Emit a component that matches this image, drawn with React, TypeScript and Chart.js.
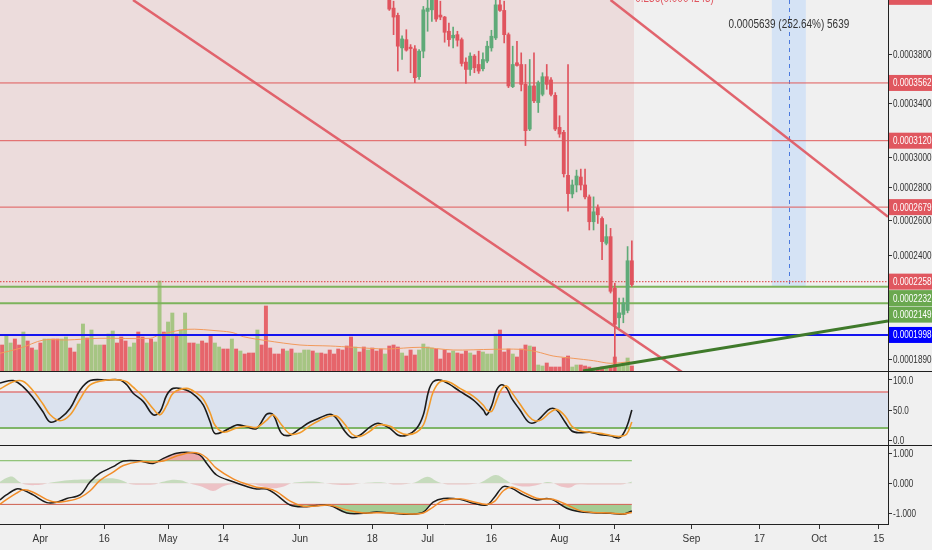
import React, { useEffect, useRef } from 'react';
import { Chart, registerables } from 'chart.js';
Chart.register(...registerables);

// ---------- shared time axis (days since 1 Apr) ----------
const X_MIN = -9.495;
const X_MAX = 199.2;
const xTickDays = [0, 15, 30, 43, 61, 78, 91, 106, 122, 135, 153, 169, 183, 197];
const xTickLabels = ['Apr', '16', 'May', '14', 'Jun', '18', 'Jul', '16', 'Aug', '14', 'Sep', '17', 'Oct', '15'];

// ---------- price axis ----------
const PRICE_MIN = 0.00018394;
const PRICE_MAX = 0.00043087;
const priceTicks = [0.00038, 0.00034, 0.0003, 0.00028, 0.00026, 0.00024, 0.000189];
const PRICE_UNIT = 0.0001; // candle arrays are in units of 0.0001

// ---------- candles (daily, from 22 Jun) ----------
const candleFirstDay = 82;
const candleOpen = [
  4.3267, 4.2291, 4.1593, 3.8605, 3.9342, 3.8667, 3.8517, 3.6134, 3.8316, 4.1974,
  4.2127, 4.307, 4.1622, 4.1433, 4.0104, 3.9495, 3.9794, 3.9342, 3.7366, 3.6741,
  3.7881, 3.7162, 3.68, 3.7451, 3.8605, 3.9495, 4.261, 4.207, 3.9794, 3.532,
  3.7307, 3.7162, 3.5506, 3.2044, 3.5376, 3.4054, 3.4705, 3.6134, 3.5864, 3.4626,
  3.2169, 3.1804, 2.8815, 2.7613, 2.8186, 2.8704, 2.8186, 2.7426, 2.5906, 2.6747,
  2.6101, 2.4656, 2.5036, 2.2244, 2.0782, 2.0943, 2.1135, 2.3688,
];
const candleHigh = [
  4.3963, 4.2971, 4.1812, 3.9677, 4.025, 3.8897, 3.8808, 3.8456, 4.2454, 4.307,
  4.3763, 4.3763, 4.2971, 4.1498, 4.0869, 4.0498, 4.0104, 3.9495, 3.7734, 3.8167,
  3.802, 3.8316, 3.8167, 3.9199, 4.0195, 4.307, 4.3168, 4.2971, 3.9948, 3.8755,
  3.9199, 3.8167, 3.7162, 3.7589, 3.8167, 3.5782, 3.6465, 3.7162, 3.6052, 3.484,
  3.3037, 3.1949, 3.7162, 2.8509, 2.9165, 2.9232, 2.9232, 2.755, 2.7426, 2.693,
  2.6203, 2.5729, 2.5514, 2.25, 2.1749, 2.1749, 2.4471, 2.4791,
];
const candleLow = [
  4.207, 3.9794, 3.6607, 3.7589, 3.8316, 3.6465, 3.5643, 3.5913, 3.7734, 4.0104,
  4.1028, 4.1028, 4.1178, 3.911, 3.8755, 3.8605, 3.8755, 3.7027, 3.5587, 3.6241,
  3.6465, 3.6407, 3.6607, 3.7307, 3.8316, 3.9342, 4.1974, 3.9047, 3.5239, 3.5239,
  3.7027, 3.4975, 3.0853, 3.1927, 3.4054, 3.3287, 3.4579, 3.5103, 3.4579, 3.1927,
  3.1444, 2.8704, 2.6547, 2.7363, 2.7739, 2.7866, 2.7301, 2.5421, 2.5421, 2.5806,
  2.3743, 2.4566, 2.1997, 1.7983, 2.0314, 2.0547, 2.102, 2.2331,
];
const candleClose = [
  4.2195, 4.1433, 3.8755, 3.9405, 3.8404, 3.8543, 3.6052, 3.8316, 4.2127, 4.2291,
  4.3168, 4.1244, 4.1433, 4.0012, 3.9342, 3.974, 3.9289, 3.7247, 3.6741, 3.7881,
  3.6884, 3.6607, 3.7589, 3.8755, 3.965, 4.261, 4.207, 3.9794, 3.5376, 3.7162,
  3.7078, 3.5506, 3.1927, 3.5376, 3.4187, 3.5643, 3.6134, 3.5506, 3.4705, 3.2044,
  3.1681, 2.892, 2.7632, 2.8186, 2.8769, 2.8186, 2.7426, 2.5906, 2.6503, 2.6322,
  2.4752, 2.5036, 2.2086, 2.0472, 2.102, 2.1503, 2.3688, 2.2427,
];

// ---------- volume (daily from 23 Mar), arbitrary units ----------
const volFirstDay = -9;
const VOL_AXIS_MAX = 371;
const volume = [
  26, 36, 28, 32, 26, 39, 30, 23, 21, 28,
  32, 32, 32, 32, 32, 34, 23, 19, 27, 47,
  33, 41, 26, 26, 26, 37, 40, 28, 34, 30,
  24, 28, 39, 34, 28, 32, 29, 90, 39, 49,
  58, 37, 41, 58, 28, 28, 27, 30, 28, 36,
  28, 24, 22, 22, 32, 22, 20, 17, 18, 18,
  41, 26, 65, 23, 17, 17, 22, 20, 22, 18,
  18, 21, 21, 20, 18, 18, 17, 21,
  17, 22, 21, 25, 34, 24, 19, 24, 21, 23,
  20, 22, 17, 25, 26, 24, 18, 15, 21, 16,
  21, 27, 24, 23, 22, 12, 21, 18, 20, 18,
  17, 20, 18, 16, 20, 19, 17, 17, 37, 41,
  19, 22, 17, 14, 22, 26, 25, 24, 6, 5,
  8, 4, 4, 4, 13, 15, 4, 6, 6, 5,
  4, 3, 3, 4, 3, 5, 14, 6, 6, 13, 5,
];
const volUp = [
  0, 1, 1, 0, 0, 1, 0, 0, 1, 0,
  1, 1, 0, 0, 1, 1, 0, 0, 1, 1,
  0, 1, 1, 1, 0, 1, 1, 0, 0, 0,
  1, 1, 0, 0, 1, 0, 1, 1, 0, 1,
  1, 0, 1, 1, 0, 0, 1, 0, 0, 0,
  1, 1, 0, 0, 1, 0, 1, 0, 0, 0,
  1, 0, 0, 0, 0, 0, 0, 1, 0, 1,
  1, 1, 1, 0, 1, 0, 0, 0,
  0, 0, 0, 0, 0, 1, 0, 0, 1, 0,
  0, 0, 1, 0, 0, 0, 1, 0, 0, 0,
  1, 1, 1, 1, 0, 0, 0, 0, 1, 0,
  0, 0, 1, 0, 0, 1, 1, 1, 1, 0,
  0, 0, 1, 0, 0, 0, 1, 0, 1, 1,
  0, 0, 0, 0, 0, 0, 1, 1, 0, 0,
  0, 1, 0, 0, 1, 0, 0, 1, 1, 1, 0,
];
const volMaDays = [-9.5, -4.8, 0.7, 6.2, 14.0, 25.8, 27.9, 34.4, 42.2, 45.3, 47.7, 53.2, 61.0, 68.1, 73.5, 81.4, 89.2, 97.0, 106.4, 112.7, 116.6, 120.5, 125.2, 130.0, 133.9, 138.6];
const volMa = [17.7, 22.7, 31, 31, 32.7, 32.7, 36, 41.7, 40, 38.3, 34.3, 30.3, 26, 25, 23.7, 22, 23.7, 21, 21.7, 21.7, 19.3, 15, 12.7, 10.3, 7.7, 9.3];

// ---------- drawings ----------
const redLevels = [0.0003562, 0.000312, 0.0002679];
const dottedLevel = 0.0002258;
const greenLevels = [0.0002232, 0.0002149];
const blueLevel = 0.0001998;
const topLabelPrice = 0.000434;
const FIB_PRICE = 0.0004245;
const FIB_LABEL = '0.236(0.0004245)';
const FIB_LABEL_DAY = 139.8;
const PINK_END_DAY = 139.5;
const redTrendA = [{ x: 21.76, y: 0.00043087 }, { x: 151.5, y: 0.00018264 }];
const redTrendB = [{ x: 134.0, y: 0.00043087 }, { x: 199.2, y: 0.00026206 }];
const greenTrend = [{ x: 127.5, y: 0.00018394 }, { x: 199.2, y: 0.0002063 }];
const RANGE_LOW = 0.0002232;
const RANGE_HIGH = 0.0007871;
const RANGE_START_DAY = 171.9;
const RANGE_END_DAY = 179.9;

// ---------- stochastic ----------
const stochDays = [-9.5, -6.4, -4.1, -1.7, 0.6, 2.3, 4.6, 7.0, 9.3, 11.7, 15.6, 18.7, 20.3, 21.8, 24.2, 26.5, 28.1, 29.7, 31.2, 34.4, 36.7, 38.3, 39.9, 41.0, 43.0, 46.1, 48.5, 50.8, 53.2, 54.7, 56.7, 58.7, 61.0, 63.4, 65.7, 68.1, 69.6, 71.6, 73.2, 75.1, 77.5, 79.4, 82.2, 84.1, 86.1, 88.4, 90.0, 91.2, 92.3, 93.9, 95.9, 98.6, 101.7, 104.1, 104.9, 106.1, 107.2, 108.4, 109.6, 110.8, 112.7, 114.7, 116.2, 117.8, 119.8, 121.3, 123.3, 124.9, 126.8, 129.2, 131.5, 133.9, 136.2, 137.8, 139.0];
const stochK = [95, 99, 89, 70, 47, 30, 36, 53, 83, 99, 100, 100, 92, 78, 64, 42, 47, 75, 86, 83, 72, 58, 30, 11, 14, 25, 22, 19, 43, 42, 11, 8, 19, 30, 37, 43, 36, 14, 4, 8, 22, 28, 19, 8, 8, 19, 42, 81, 97, 100, 94, 81, 67, 50, 42, 58, 83, 92, 86, 69, 50, 30, 29, 39, 52, 50, 30, 15, 12, 13, 9, 7, 4, 22, 50];
const stochD = [85, 97, 98, 82, 60, 42, 32, 42, 68, 92, 100, 100, 97, 88, 72, 52, 42, 58, 78, 86, 78, 68, 45, 25, 13, 20, 23, 21, 33, 42, 25, 10, 12, 24, 33, 40, 40, 26, 10, 6, 15, 25, 23, 14, 9, 13, 25, 52, 80, 97, 97, 86, 73, 58, 50, 48, 66, 85, 90, 79, 60, 40, 32, 34, 46, 51, 40, 23, 15, 13, 11, 8, 6, 10, 30];
const STOCH_UPPER = 80;
const STOCH_LOWER = 20;

// ---------- oscillator (bottom pane) ----------
const macdDays = [-9.5, -8.0, -5.6, -4.0, -1.7, 1.5, 3.8, 6.2, 9.3, 11.7, 14.0, 17.1, 19.5, 23.4, 26.5, 28.9, 32.0, 35.2, 37.5, 39.1, 41.4, 45.3, 48.5, 50.8, 53.2, 55.5, 58.7, 61.8, 64.9, 68.1, 72.0, 75.9, 79.0, 82.9, 86.9, 90.0, 92.3, 94.7, 98.6, 101.7, 104.9, 106.8, 108.8, 110.8, 113.5, 116.6, 119.0, 120.5, 123.7, 126.8, 129.9, 133.9, 137.0, 139.0];
const macdLine = [-0.56, -0.39, -0.19, -0.23, -0.39, -0.65, -0.64, -0.51, -0.39, 0.05, 0.34, 0.56, 0.75, 0.75, 0.67, 0.84, 1.01, 1.04, 0.95, 0.67, 0.28, 0.05, -0.11, -0.19, -0.19, -0.39, -0.73, -0.79, -0.75, -0.75, -1.0, -1.01, -0.97, -1.01, -1.04, -0.97, -0.63, -0.51, -0.54, -0.67, -0.73, -0.45, -0.11, -0.17, -0.39, -0.56, -0.51, -0.56, -0.84, -0.96, -0.99, -1.01, -1.04, -0.93];
const signalLine = [-0.7, -0.55, -0.33, -0.22, -0.3, -0.55, -0.64, -0.6, -0.48, -0.25, 0.1, 0.38, 0.6, 0.73, 0.72, 0.75, 0.92, 1.03, 1.0, 0.85, 0.5, 0.15, -0.03, -0.13, -0.17, -0.28, -0.6, -0.77, -0.76, -0.74, -0.9, -1.0, -0.99, -1.0, -1.03, -1.0, -0.8, -0.58, -0.52, -0.62, -0.71, -0.6, -0.25, -0.13, -0.3, -0.5, -0.53, -0.54, -0.72, -0.92, -0.98, -1.0, -1.03, -0.98];
const histDays = [-9.5, -8, -6.5, -5, -3.5, -1, 1, 2.5, 5, 8, 11, 14, 17, 19.5, 21, 24, 27, 28.5, 31, 33, 35, 38, 40.6, 43, 45, 48, 50, 52, 54.7, 57, 59, 62, 65, 67, 70, 73, 75.5, 78, 81, 83, 86, 88, 91, 93, 95, 98, 101, 103.5, 107, 109.5, 111, 114, 117, 119, 120.5, 122.5, 124.5, 126, 130, 134, 137, 139];
const histVals = [0.05, 0.18, 0.22, 0.05, -0.04, -0.06, -0.02, 0.03, 0.08, 0.12, 0.13, 0.15, 0.17, 0.08, -0.02, -0.05, -0.03, 0.04, 0.12, 0.1, 0.0, -0.12, -0.26, -0.1, -0.03, -0.05, -0.03, -0.1, -0.17, -0.12, 0.0, 0.05, 0.05, 0.0, -0.05, -0.05, 0.0, 0.03, 0.02, -0.04, -0.02, 0.03, 0.22, 0.08, -0.02, -0.04, -0.03, 0.03, 0.28, 0.1, -0.03, -0.11, -0.05, 0.04, 0.01, -0.12, -0.14, -0.04, -0.04, -0.04, -0.03, 0.06];
const OSC_UPPER = 0.76;
const OSC_LOWER = -0.71;
const OSC_LINE_END_DAY = 139;

// ---------- style ----------
const FONT = "'Liberation Sans',Arial,sans-serif";
const NARROW = 0.74; // horizontal squeeze of the narrow TradingView font
const AXIS_TEXT = '#333';
const AXIS_LINE = '#222';
const CANDLE_RED = '#e0545e';
const CANDLE_GREEN = '#5faa78';
const LABEL_RED = '#e0575f';
const LABEL_GREEN = '#6aa84f';
const LABEL_BLUE = '#0000ff';

const pts = (xs: number[], ys: number[]) => xs.map((x, i) => ({ x, y: ys[i] }));
const hline = (v: number, x0 = X_MIN, x1 = X_MAX) => [{ x: x0, y: v }, { x: x1, y: v }];

function narrowText(ctx: CanvasRenderingContext2D, text: string, x: number, y: number, size: number, color: string, align: 'left' | 'center' = 'left', baseline: CanvasTextBaseline = 'middle', squeeze = NARROW) {
  ctx.save();
  ctx.font = `${size}px ${FONT}`;
  ctx.fillStyle = color;
  ctx.textAlign = align;
  ctx.textBaseline = baseline;
  ctx.translate(x, y);
  ctx.scale(squeeze, 1);
  ctx.fillText(text, 0, 0);
  ctx.restore();
}

function drawRightTicks(chart: any, fmt: (v: number) => string) {
  const s = chart.scales.y;
  for (const t of s.ticks) {
    narrowText(chart.ctx, fmt(t.value), s.left + 5, s.getPixelForValue(t.value) + 0.5, 11, AXIS_TEXT);
  }
}

const baseOptions = () => ({
  responsive: false,
  maintainAspectRatio: false,
  animation: false as const,
  events: [] as any[],
  layout: { padding: 0 },
  plugins: { legend: { display: false }, tooltip: { enabled: false } },
});

const rightAxis = (min: number, max: number, ticks: number[], type = 'linear') => ({
  type,
  position: 'right',
  min,
  max,
  afterBuildTicks: (s: any) => { s.ticks = ticks.map((v) => ({ value: v })); },
  afterFit: (s: any) => { s.width = 44; s.paddingTop = 0; s.paddingBottom = 0; },
  ticks: { display: false, autoSkip: false },
  grid: { drawOnChartArea: false, tickLength: 4, tickColor: AXIS_TEXT },
  border: { display: true, color: AXIS_LINE, width: 1 },
});

const lineDs = (data: any[], color: string, width: number, order: number, extra: any = {}) => ({
  type: 'line',
  data,
  borderColor: color,
  borderWidth: width,
  pointRadius: 0,
  fill: false,
  order,
  ...extra,
});

function makeMain(canvas: HTMLCanvasElement) {
  const candleColors = candleOpen.map((o, i) => (candleClose[i] >= o ? CANDLE_GREEN : CANDLE_RED));
  const decor = {
    id: 'mainDecor',
    beforeDatasetsDraw(chart: any) {
      const { ctx, chartArea: ca, scales: { x, y } } = chart;
      ctx.save();
      ctx.fillStyle = '#ecdcdc';
      const xe = x.getPixelForValue(PINK_END_DAY);
      ctx.fillRect(ca.left, ca.top, xe - ca.left, ca.bottom - ca.top);
      const bx1 = x.getPixelForValue(RANGE_START_DAY);
      const bx2 = x.getPixelForValue(RANGE_END_DAY);
      const by1 = Math.max(y.getPixelForValue(RANGE_HIGH), ca.top);
      const by2 = y.getPixelForValue(RANGE_LOW);
      ctx.fillStyle = '#d5e3f5';
      ctx.fillRect(bx1, by1, bx2 - bx1, by2 - by1);
      const mx = x.getPixelForValue((RANGE_START_DAY + RANGE_END_DAY) / 2);
      ctx.strokeStyle = 'rgba(60,110,220,0.9)';
      ctx.lineWidth = 1;
      ctx.setLineDash([4, 4]);
      ctx.beginPath();
      ctx.moveTo(Math.round(mx) + 0.5, by1);
      ctx.lineTo(Math.round(mx) + 0.5, by2);
      ctx.stroke();
      ctx.restore();
    },
    afterDatasetsDraw(chart: any) {
      const { ctx, chartArea: ca, scales: { x, y } } = chart;
      const size = RANGE_HIGH - RANGE_LOW;
      const txt = `${size.toFixed(7)} (${((size / RANGE_LOW) * 100).toFixed(2)}%) ${Math.round(size / 1e-7)}`;
      narrowText(ctx, txt, x.getPixelForValue((RANGE_START_DAY + RANGE_END_DAY) / 2), ca.top + 24.5, 12, '#333', 'center', 'middle', 0.83);
      narrowText(ctx, FIB_LABEL, x.getPixelForValue(FIB_LABEL_DAY), y.getPixelForValue(FIB_PRICE) - 4, 12, '#e0545e', 'left', 'alphabetic', 0.83);
    },
    afterDraw(chart: any) {
      const { ctx, chartArea: ca, scales: { y } } = chart;
      drawRightTicks(chart, (v) => v.toFixed(7));
      const labels = [
        { price: topLabelPrice, color: LABEL_RED },
        ...redLevels.map((p) => ({ price: p, color: LABEL_RED })),
        { price: dottedLevel, color: LABEL_RED },
        ...greenLevels.map((p) => ({ price: p, color: LABEL_GREEN })),
        { price: blueLevel, color: LABEL_BLUE },
      ]
        .map((l) => ({ ...l, py: y.getPixelForValue(l.price) }))
        .sort((a, b) => a.py - b.py);
      let prev = -Infinity;
      for (const l of labels) {
        const cy = Math.max(l.py, prev + 16.5);
        prev = cy;
        ctx.save();
        ctx.fillStyle = l.color;
        ctx.fillRect(ca.right + 1, cy - 8, chart.width - ca.right - 1, 16);
        ctx.restore();
        narrowText(ctx, l.price.toFixed(7), ca.right + 5, cy + 0.5, 11, '#ffffff');
      }
    },
  };

  const datasets: any[] = [
    {
      type: 'bar',
      yAxisID: 'yVol',
      data: volume.map((v, i) => ({ x: volFirstDay + i, y: v })),
      backgroundColor: volUp.map((u) => (u ? '#a6c583' : '#e6656b')),
      barThickness: 3.3,
      grouped: false,
      order: 30,
    },
    lineDs(pts(volMaDays, volMa), '#f29a5c', 1, 29, { yAxisID: 'yVol', tension: 0.3 }),
    ...redLevels.map((p) => lineDs(hline(p), '#e05a5a', 1, 20, { yAxisID: 'y' })),
    lineDs(hline(dottedLevel), '#e05a5a', 1.2, 20, { yAxisID: 'y', borderDash: [1.5, 1.5] }),
    ...greenLevels.map((p) => lineDs(hline(p), '#7db35c', 2, 20, { yAxisID: 'y' })),
    lineDs(hline(blueLevel), '#1414f0', 2, 20, { yAxisID: 'y' }),
    {
      type: 'bar',
      yAxisID: 'y',
      data: candleLow.map((l, i) => ({ x: candleFirstDay + i, y: [l * PRICE_UNIT, candleHigh[i] * PRICE_UNIT] })),
      backgroundColor: candleColors,
      barThickness: 1,
      grouped: false,
      order: 12,
    },
    {
      type: 'bar',
      yAxisID: 'y',
      data: candleOpen.map((o, i) => ({ x: candleFirstDay + i, y: [o * PRICE_UNIT, candleClose[i] * PRICE_UNIT] })),
      backgroundColor: candleColors,
      barThickness: 3.2,
      minBarLength: 1,
      grouped: false,
      order: 11,
    },
    lineDs(redTrendA, 'rgba(224,88,98,0.92)', 2.5, 5, { yAxisID: 'y', clip: 0 }),
    lineDs(redTrendB, 'rgba(224,88,98,0.92)', 2.5, 5, { yAxisID: 'y', clip: 0 }),
    lineDs(greenTrend, '#3f7a2a', 3, 4, { yAxisID: 'y', clip: 0 }),
  ];

  return new Chart(canvas, {
    type: 'bar',
    data: { datasets },
    options: {
      ...baseOptions(),
      scales: {
        x: { type: 'linear', min: X_MIN, max: X_MAX, display: false, offset: false },
        y: rightAxis(PRICE_MIN, PRICE_MAX, priceTicks, 'logarithmic'),
        yVol: { type: 'linear', display: false, min: 0, max: VOL_AXIS_MAX },
      },
    } as any,
    plugins: [decor],
  } as any);
}

function makeStoch(canvas: HTMLCanvasElement) {
  const decor = {
    id: 'stochDecor',
    beforeDatasetsDraw(chart: any) {
      const { ctx, chartArea: ca, scales: { y } } = chart;
      ctx.save();
      ctx.fillStyle = '#dbe2ee';
      const y1 = y.getPixelForValue(STOCH_UPPER);
      const y2 = y.getPixelForValue(STOCH_LOWER);
      ctx.fillRect(ca.left, y1, ca.right - ca.left, y2 - y1);
      ctx.restore();
    },
    afterDraw(chart: any) {
      drawRightTicks(chart, (v) => v.toFixed(1));
    },
  };
  return new Chart(canvas, {
    type: 'line',
    data: {
      datasets: [
        lineDs(hline(STOCH_UPPER), '#e07a7a', 1.5, 10),
        lineDs(hline(STOCH_LOWER), '#7fb568', 2, 10),
        lineDs(pts(stochDays, stochK), '#1b1b1b', 1.6, 2, { tension: 0.35 }),
        lineDs(pts(stochDays, stochD), '#f29b2b', 1.6, 1, { tension: 0.35 }),
      ],
    },
    options: {
      ...baseOptions(),
      scales: {
        x: { type: 'linear', min: X_MIN, max: X_MAX, display: false, offset: false },
        y: rightAxis(-8.33, 113.33, [0, 50, 100]),
      },
    } as any,
    plugins: [decor],
  } as any);
}

function makeOsc(canvas: HTMLCanvasElement) {
  const macdPts = pts(macdDays, macdLine);
  const decor = {
    id: 'oscDecor',
    afterDraw(chart: any) {
      drawRightTicks(chart, (v) => v.toFixed(3));
    },
  };
  return new Chart(canvas, {
    type: 'line',
    data: {
      datasets: [
        lineDs(pts(histDays, histVals), 'rgba(0,0,0,0)', 0, 20, {
          tension: 0.35,
          fill: { target: 'origin', above: 'rgba(120,180,95,0.35)', below: 'rgba(232,110,120,0.35)' },
        }),
        lineDs(hline(OSC_UPPER, X_MIN, OSC_LINE_END_DAY), '#6cc35a', 1, 15),
        lineDs(hline(OSC_LOWER, X_MIN, OSC_LINE_END_DAY), '#e05050', 1, 15),
        lineDs(macdPts, 'rgba(0,0,0,0)', 0, 12, {
          tension: 0.35,
          fill: { target: { value: OSC_UPPER }, above: 'rgba(230,110,115,0.55)', below: 'rgba(0,0,0,0)' },
        }),
        lineDs(macdPts, 'rgba(0,0,0,0)', 0, 12, {
          tension: 0.35,
          fill: { target: { value: OSC_LOWER }, above: 'rgba(0,0,0,0)', below: 'rgba(115,180,85,0.6)' },
        }),
        lineDs(macdPts, '#1b1b1b', 1.5, 2, { tension: 0.35 }),
        lineDs(pts(macdDays, signalLine), '#f28c28', 1.5, 1, { tension: 0.35 }),
      ],
    },
    options: {
      ...baseOptions(),
      scales: {
        x: {
          type: 'linear',
          position: 'bottom',
          min: X_MIN,
          max: X_MAX,
          offset: false,
          afterBuildTicks: (s: any) => { s.ticks = xTickDays.map((v) => ({ value: v })); },
          afterFit: (s: any) => { s.height = 26; s.paddingLeft = 0; s.paddingRight = 0; },
          ticks: {
            callback: (v: any) => xTickLabels[xTickDays.indexOf(Number(v))] ?? '',
            autoSkip: false,
            maxRotation: 0,
            font: { family: FONT, size: 10 },
            color: AXIS_TEXT,
            padding: 4,
          },
          grid: { drawOnChartArea: false, tickLength: 5, tickColor: AXIS_TEXT },
          border: { display: true, color: AXIS_LINE, width: 1 },
        },
        y: rightAxis(-1.37, 1.256, [-1, 0, 1]),
      },
    } as any,
    plugins: [decor],
  } as any);
}

export default function App() {
  const mainRef = useRef<HTMLCanvasElement>(null);
  const stochRef = useRef<HTMLCanvasElement>(null);
  const oscRef = useRef<HTMLCanvasElement>(null);

  useEffect(() => {
    const charts = [
      makeMain(mainRef.current as HTMLCanvasElement),
      makeStoch(stochRef.current as HTMLCanvasElement),
      makeOsc(oscRef.current as HTMLCanvasElement),
    ];
    return () => charts.forEach((c) => c.destroy());
  }, []);

  return (
    <div style={{ position: 'fixed', left: 0, top: 0, width: 932, height: 550, background: '#f0f0f0', overflow: 'hidden' }}>
      <canvas ref={mainRef} width={932} height={371} style={{ position: 'absolute', left: 0, top: 0, width: 932, height: 371 }} />
      <div style={{ position: 'absolute', left: 0, top: 371, width: 932, height: 1, background: '#1e1e1e' }} />
      <canvas ref={stochRef} width={932} height={73} style={{ position: 'absolute', left: 0, top: 372, width: 932, height: 73 }} />
      <div style={{ position: 'absolute', left: 0, top: 445, width: 932, height: 1, background: '#1e1e1e' }} />
      <canvas ref={oscRef} width={932} height={104} style={{ position: 'absolute', left: 0, top: 446, width: 932, height: 104 }} />
    </div>
  );
}
